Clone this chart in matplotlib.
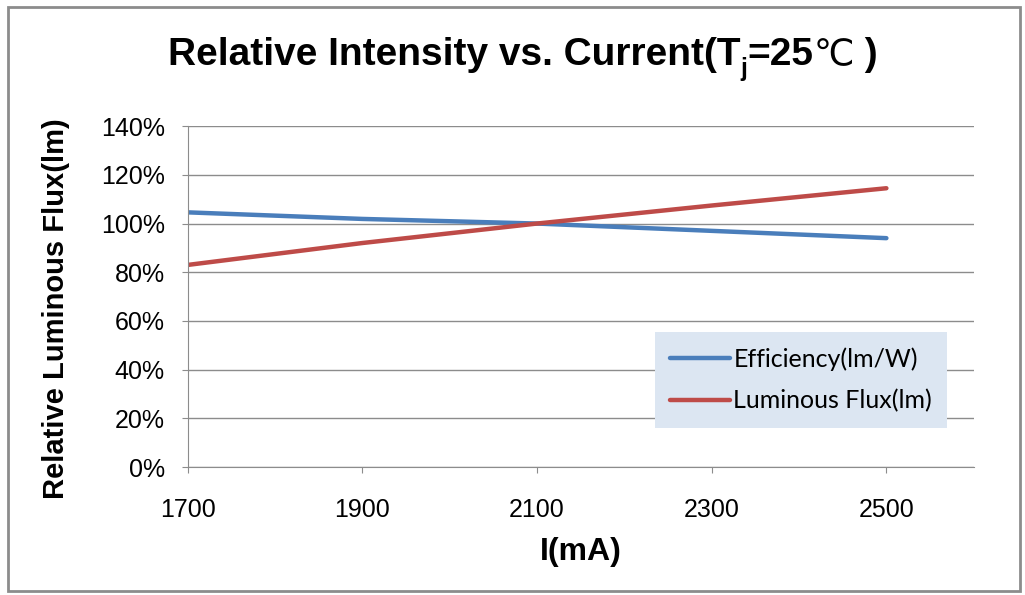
import numpy as np
import matplotlib.pyplot as plt
from matplotlib.patches import Rectangle
from matplotlib.ticker import PercentFormatter

# relative values (%)
current = [1700, 1900, 2100, 2300, 2500]
efficiency = [104.6, 101.9, 100.0, 97.0, 94.0]
lum_flux = [83.0, 92.0, 100.0, 107.4, 114.5]
y_ticks = [0, 20, 40, 60, 80, 100, 120, 140]

plt.rcParams['font.family'] = ['Liberation Sans', 'DejaVu Sans']
grid_c = '#8c8c8c'

fig = plt.figure(figsize=(10.25, 5.95), dpi=100)
ax = fig.add_axes([0.183, 0.215, 0.767, 0.573])

ax.plot(current, efficiency, color='#4a7ebb', lw=3.2, solid_capstyle='round', label='Efficiency(lm/W)')
ax.plot(current, lum_flux, color='#be4b48', lw=3.2, solid_capstyle='round', label='Luminous Flux(lm)')

ax.set_xlim(1700, 2600)
ax.set_ylim(0, 140)
ax.set_xticks(current)
ax.set_yticks(y_ticks)
ax.yaxis.set_major_formatter(PercentFormatter(decimals=0))
ax.grid(axis='y', color=grid_c, lw=1)
ax.set_axisbelow(True)
for s in ['top', 'right']:
    ax.spines[s].set_visible(False)
ax.spines['left'].set_color(grid_c)
ax.spines['bottom'].set_color(grid_c)
ax.tick_params(axis='both', colors=grid_c, labelcolor='black', labelsize=18, length=4.5)
ax.tick_params(axis='x', pad=18)
ax.tick_params(axis='y', pad=12)

ax.set_xlabel('I(mA)', fontsize=23, fontweight='bold')
ax.xaxis.set_label_coords(0.5, -0.205)
ax.set_ylabel('Relative Luminous Flux(lm)', fontsize=21, fontweight='bold')
ax.yaxis.set_label_coords(-0.150, 0.466)

# title built from pieces so the subscript j and the degree sign both render
parts = [('Relative Intensity vs. Current(T', 28, 0.0, 'bold'),
         ('j', 18, -0.018, 'bold'),
         ('=25', 28, 0.0, 'bold'),
         ('℃', 26, 0.0, 'normal'),
         (' )', 28, 0.0, 'bold')]
renderer = fig.canvas.get_renderer()
texts = []
widths = []
for s, size, dy, wt in parts:
    t = fig.text(0, 0.915 + dy, s, fontsize=size, fontweight=wt, va='baseline', ha='left')
    texts.append(t)
    widths.append(t.get_window_extent(renderer).width / fig.bbox.width)
x = 0.51 - sum(widths) / 2
base_y = 1 - 65 / 595
for t, (s, size, dy, wt), w in zip(texts, parts, widths):
    t.set_position((x, base_y + dy))
    x += w

leg = ax.legend(loc='upper left', bbox_to_anchor=(0.594, 0.396), borderaxespad=0,
                frameon=True, fancybox=False, facecolor='#dce6f2', edgecolor='none',
                framealpha=1, prop={'family': 'Lato', 'size': 18},
                handlelength=2.4, handletextpad=0.15, labelspacing=0.75,
                borderpad=0.6)

fig.add_artist(Rectangle((0.008, 0.006), 0.987, 0.982, transform=fig.transFigure,
                         fill=False, edgecolor='#8c8c8c', lw=2))

fig.savefig('out.png', dpi=100)
